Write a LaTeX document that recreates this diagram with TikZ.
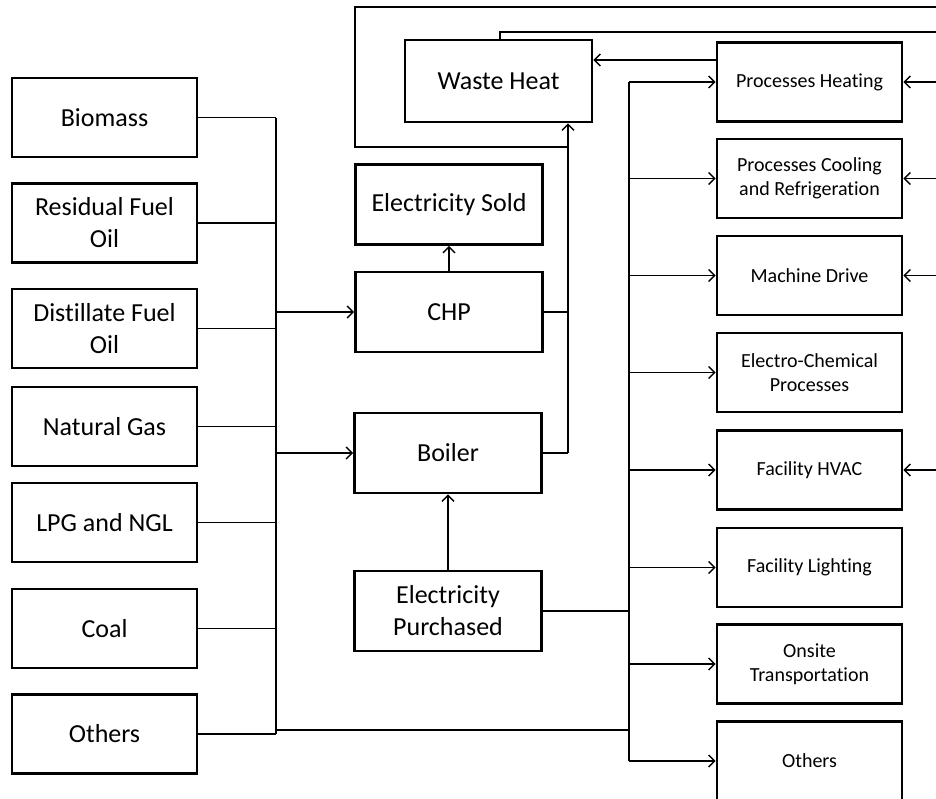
\documentclass[tikz,border=0pt]{standalone}
\usepackage{fontspec}
\setmainfont[Ligatures=NoCommon]{Carlito}
\usetikzlibrary{arrows.meta,calc}
\begin{document}
\begin{tikzpicture}[x=1pt,y=-1pt,
  box/.style={draw,line width=2.9pt,rectangle,inner sep=0pt,align=center},
  lbox/.style={box,minimum width=185pt,minimum height=79pt,font=\fontsize{26}{32}\selectfont},
  mbox/.style={box,minimum width=187pt,minimum height=80pt,font=\fontsize{26}{32}\selectfont},
  rbox/.style={box,minimum width=185pt,minimum height=79pt,font=\fontsize{20}{24.5}\selectfont},
  conn/.style={line width=1.5pt},
  arr/.style={conn,-{Straight Barb[length=6pt,width=12pt,line width=1.4pt]}}
]
\useasboundingbox (0,0) rectangle (936,798);
% left sources
\node[lbox] (bio) at (104.5,117.5) {Biomass};
\node[lbox] (rfo) at (104.5,223) {Residual Fuel\\Oil};
\node[lbox] (dfo) at (104.5,328.5) {Distillate Fuel\\Oil};
\node[lbox] (ng)  at (104.5,426.5) {Natural Gas};
\node[lbox] (lpg) at (104.5,522.5) {LPG and NGL};
\node[lbox] (coal) at (104.5,628.5) {Coal};
\node[lbox] (loth) at (104.5,734) {Others};
% middle
\node[mbox] (es)   at (449,204.5) {Electricity Sold};
\node[mbox] (chp)  at (449,312) {CHP};
\node[mbox] (boil) at (448,453) {Boiler};
\node[mbox] (ep)   at (448,611) {Electricity\\Purchased};
\node[mbox,minimum height=82pt] (wh) at (498.5,81) {Waste Heat};
% right end uses
\node[rbox] (ph)   at (809.5,82) {Processes Heating};
\node[rbox] (pc)   at (809.5,178.5) {Processes Cooling\\and Refrigeration};
\node[rbox] (md)   at (809.5,275.5) {Machine Drive};
\node[rbox] (ec)   at (809.5,372.5) {Electro-Chemical\\Processes};
\node[rbox] (hvac) at (809.5,470) {Facility HVAC};
\node[rbox] (fl)   at (809.5,567.5) {Facility Lighting};
\node[rbox] (ot)   at (809.5,664) {Onsite\\Transportation};
\node[rbox] (roth) at (809.5,761) {Others};
% bus coordinates
\coordinate (lbus) at (276,0);
\coordinate (wbus) at (568,0);
\coordinate (rbus) at (629,0);
\coordinate (edge) at (936,0);
\coordinate (lpA) at (568,147);
\coordinate (lpB) at (355,147);
\coordinate (lpC) at (355,7);
\coordinate (lpD) at (936,7);
\coordinate (topR) at (936,32);
\coordinate (othJ) at (276,730);
% left bus
\foreach \n in {bio,rfo,dfo,ng,lpg,coal}{\draw[conn] (\n.east) -- (\n.east -| lbus);}
\draw[conn] (bio.east -| lbus) -- (loth.east -| lbus);
\draw[conn] (loth.east) -- (loth.east -| lbus);
\draw[conn] (othJ) -- (othJ -| rbus);
\draw[arr] (chp.west -| lbus) -- (chp.west);
\draw[arr] (boil.west -| lbus) -- (boil.west);
% middle
\draw[arr] (chp.north) -- (es.south);
\draw[arr] (ep.north) -- (boil.south);
\draw[conn] (chp.east) -- (chp.east -| wbus);
\draw[conn] (boil.east) -- (boil.east -| wbus);
\draw[arr] (boil.east -| wbus) -- (wh.south -| wbus);
% loops at top
\draw[conn] (lpA) -- (lpB) -- (lpC) -- (lpD);
\draw[conn] ([xshift=1.5pt]wh.north) |- (topR);
\draw[arr] ([yshift=22pt]ph.west) -- ([yshift=22pt]ph.west -| wh.east);
% right bus
\draw[conn] (ep.east) -- (ep.east -| rbus);
\draw[conn] (ph.west -| rbus) -- (roth.west -| rbus);
\foreach \n in {ph,pc,md,ec,hvac,fl,ot,roth}{\draw[arr] (\n.west -| rbus) -- (\n.west);}
\foreach \n in {ph,pc,md,hvac}{\draw[arr] (\n.east -| edge) -- (\n.east);}
\end{tikzpicture}
\end{document}
